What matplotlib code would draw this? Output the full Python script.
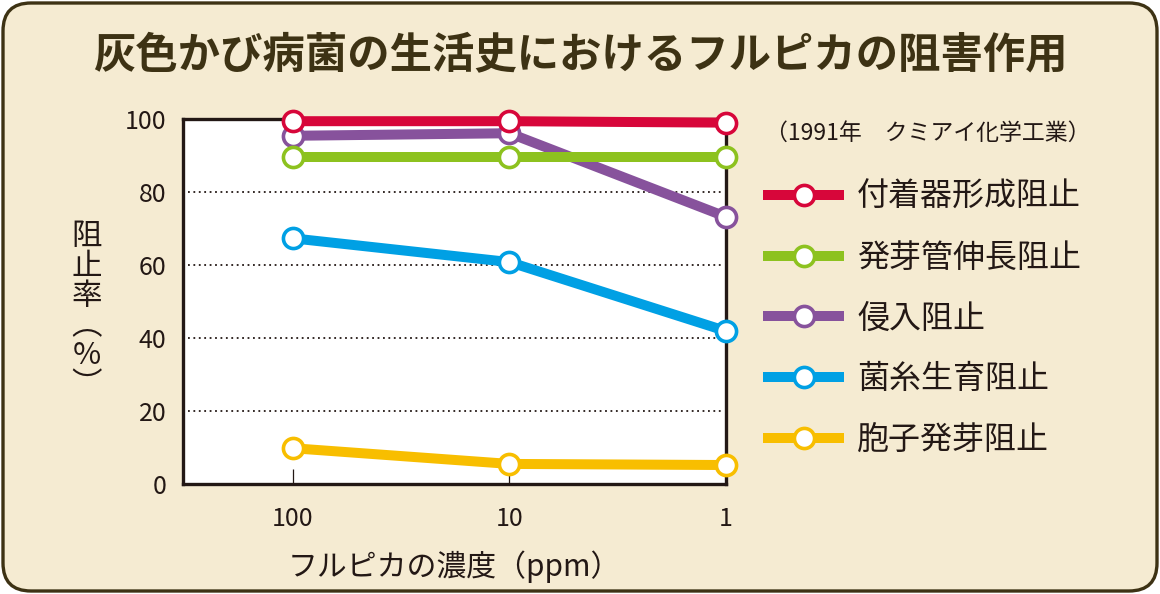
import matplotlib
matplotlib.use('Agg')
import matplotlib.pyplot as plt
from matplotlib.patches import FancyBboxPatch

plt.rcParams['font.family'] = ['Noto Sans CJK JP', 'DejaVu Sans']

# data
concentrations = ['100', '10', '1']
series_names = ['付着器形成阻止', '発芽管伸長阻止', '侵入阻止', '菌糸生育阻止', '胞子発芽阻止']
adhesion = [99.4, 99.4, 99.0]      # 付着器形成阻止
germ_tube = [89.5, 89.5, 89.5]     # 発芽管伸長阻止
invasion = [95.4, 96.1, 73.2]      # 侵入阻止
mycelium = [67.3, 60.8, 41.9]      # 菌糸生育阻止
spore = [9.8, 5.5, 5.2]            # 胞子発芽阻止

colors = ['#D7063A', '#8DC21F', '#87529C', '#00A0E4', '#F8BE00']
series = [adhesion, germ_tube, invasion, mycelium, spore]

text_col = '#231815'
cream = '#F5EBD2'
brown = '#3D3214'

fig = plt.figure(figsize=(11.6, 5.94), dpi=100, facecolor='white')

# rounded cream panel behind everything
panel = FancyBboxPatch((0.03, 0.03), 11.54, 5.88,
                       boxstyle='round,pad=0,rounding_size=0.28',
                       transform=fig.dpi_scale_trans,
                       facecolor=cream, edgecolor=brown, linewidth=2.4, zorder=-5)
fig.patches.append(panel)

fig.text(0.5, 1 - 55 / 594, '灰色かび病菌の生活史におけるフルピカの阻害作用',
         ha='center', va='center', fontsize=30.5, fontweight='bold', color=brown)

ax = fig.add_axes([183 / 1160, 1 - 484 / 594, 543 / 1160, 365 / 594])
ax.set_zorder(1)
ax.set_facecolor('white')

x = list(range(len(concentrations)))
handles = {}
# draw order: bottom series first so red ends on top
for i in [4, 3, 1, 2, 0]:
    ln, = ax.plot(x, series[i], color=colors[i], lw=7.2, marker='o', ms=14.5,
                  mfc='white', mec=colors[i], mew=2.6, clip_on=False,
                  solid_capstyle='butt', zorder=3 + (4 - i))
    handles[i] = ln

for y in [20, 40, 60, 80]:
    ax.axhline(y, xmin=0.01, xmax=0.99, color=text_col, lw=1.3,
               linestyle=(0, (1, 2)), zorder=1)

ax.set_xlim(-0.508, 2.0)
ax.set_ylim(0, 100)
ax.set_xticks(x)
ax.set_xticklabels(concentrations)
ax.set_yticks([0, 20, 40, 60, 80, 100])
for s in ax.spines.values():
    s.set_linewidth(2.4)
    s.set_color(text_col)
    s.set_zorder(2)
ax.tick_params(axis='x', direction='in', length=11, width=0.9, color=text_col,
               labelsize=18, labelcolor=text_col, pad=16)
ax.tick_params(axis='y', length=0, labelsize=18, labelcolor=text_col, pad=12)

fig.text(454 / 1160, 1 - 567 / 594, 'フルピカの濃度（ppm）', ha='center', va='center',
         fontsize=21.5, color=text_col)
fig.text(87 / 1160, 1 - 311 / 594, '阻\n止\n率\n︵\n%\n︶', ha='center', va='center',
         fontsize=22, color=text_col, linespacing=0.95)

fig.text(765 / 1160, 1 - 133 / 594, '（1991年　クミアイ化学工業）', ha='left', va='center',
         fontsize=16.5, color=text_col)

leg = fig.legend([handles[i] for i in range(5)], series_names,
                 loc='upper left', bbox_to_anchor=(763 / 1160, 1 - 181 / 594),
                 frameon=False, fontsize=23, handlelength=2.55, handletextpad=0.4,
                 labelspacing=0.9, borderpad=0, borderaxespad=0, labelcolor=text_col)

fig.savefig('out.png', dpi=100, facecolor='white')
